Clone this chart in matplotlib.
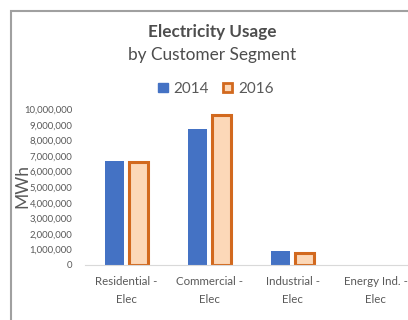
import matplotlib
matplotlib.use('Agg')
import matplotlib.pyplot as plt
from matplotlib.patches import Patch, Rectangle
from matplotlib.ticker import FuncFormatter
import numpy as np

plt.rcParams['font.family'] = ['Lato', 'DejaVu Sans']

categories = ['Residential -\nElec', 'Commercial -\nElec', 'Industrial -\nElec', 'Energy Ind. -\nElec']
usage_2014 = [6650000, 8730000, 880000, 0]
usage_2016 = [6600000, 9650000, 750000, 0]
yticks = [0, 1000000, 2000000, 3000000, 4000000, 5000000, 6000000, 7000000, 8000000, 9000000, 10000000]

blue = '#4472c4'
orange_edge = '#d2691e'
orange_fill = '#fcd8b8'
grey_txt = '#595959'

fig = plt.figure(figsize=(4.08, 3.20), dpi=100)
fig.patch.set_facecolor('white')

# chart frame (cropped on right/bottom in the reference)
fig.patches.append(Rectangle((10.5 / 408, -0.1), 1.2, (320 - 11) / 320 + 0.1,
                             transform=fig.transFigure, fill=False,
                             edgecolor='#a0a0a0', linewidth=1.5))

ax = fig.add_axes([85 / 408, 55 / 320, 332 / 408, 155.7 / 320])
x = np.arange(len(categories))
w = 0.235
b1 = ax.bar(x - 0.145, usage_2014, w, color=blue, label='2014')
b2 = ax.bar(x + 0.145, usage_2016, w, facecolor=orange_fill, edgecolor=orange_edge,
            linewidth=2.2, label='2016')
# empty categories draw nothing
for bars in (b1, b2):
    for r in bars:
        if r.get_height() == 0:
            r.set_visible(False)

ax.set_xlim(-0.5, 3.5)
ax.set_ylim(0, 10000000)
ax.set_yticks(yticks)
ax.yaxis.set_major_formatter(FuncFormatter(lambda v, p: '{:,.0f}'.format(v)))
ax.set_xticks(x)
ax.set_xticklabels(categories, fontsize=8.3, color=grey_txt, linespacing=1.75)
ax.tick_params(axis='both', length=0)
ax.tick_params(axis='y', labelsize=6.8, labelcolor=grey_txt, pad=9)
ax.tick_params(axis='x', pad=8)
for s in ['top', 'right', 'left']:
    ax.spines[s].set_visible(False)
ax.spines['bottom'].set_color('#d9d9d9')
ax.set_facecolor('none')

fig.text(22 / 408, 1 - 186 / 320, 'MWh', rotation=90, ha='center', va='center',
         fontsize=12.5, color=grey_txt)

fig.text(212 / 408, 1 - 32 / 320, 'Electricity Usage', ha='center', va='center',
         fontsize=12.3, fontweight='bold', color='#4d4d4d')
fig.text(212 / 408, 1 - 55 / 320, 'by Customer Segment', ha='center', va='center',
         fontsize=12.4, color='#4d4d4d')

handles = [Patch(facecolor=blue, edgecolor=blue, label='2014'),
           Patch(facecolor=orange_fill, edgecolor=orange_edge, linewidth=2, label='2016')]
fig.legend(handles=handles, loc='center', bbox_to_anchor=(216 / 408, 1 - 89 / 320),
           ncol=2, frameon=False, fontsize=11, handlelength=0.6, handleheight=0.6,
           handletextpad=0.4, columnspacing=0.9, labelcolor=grey_txt)

fig.savefig('out.png', dpi=100, facecolor=fig.get_facecolor())
